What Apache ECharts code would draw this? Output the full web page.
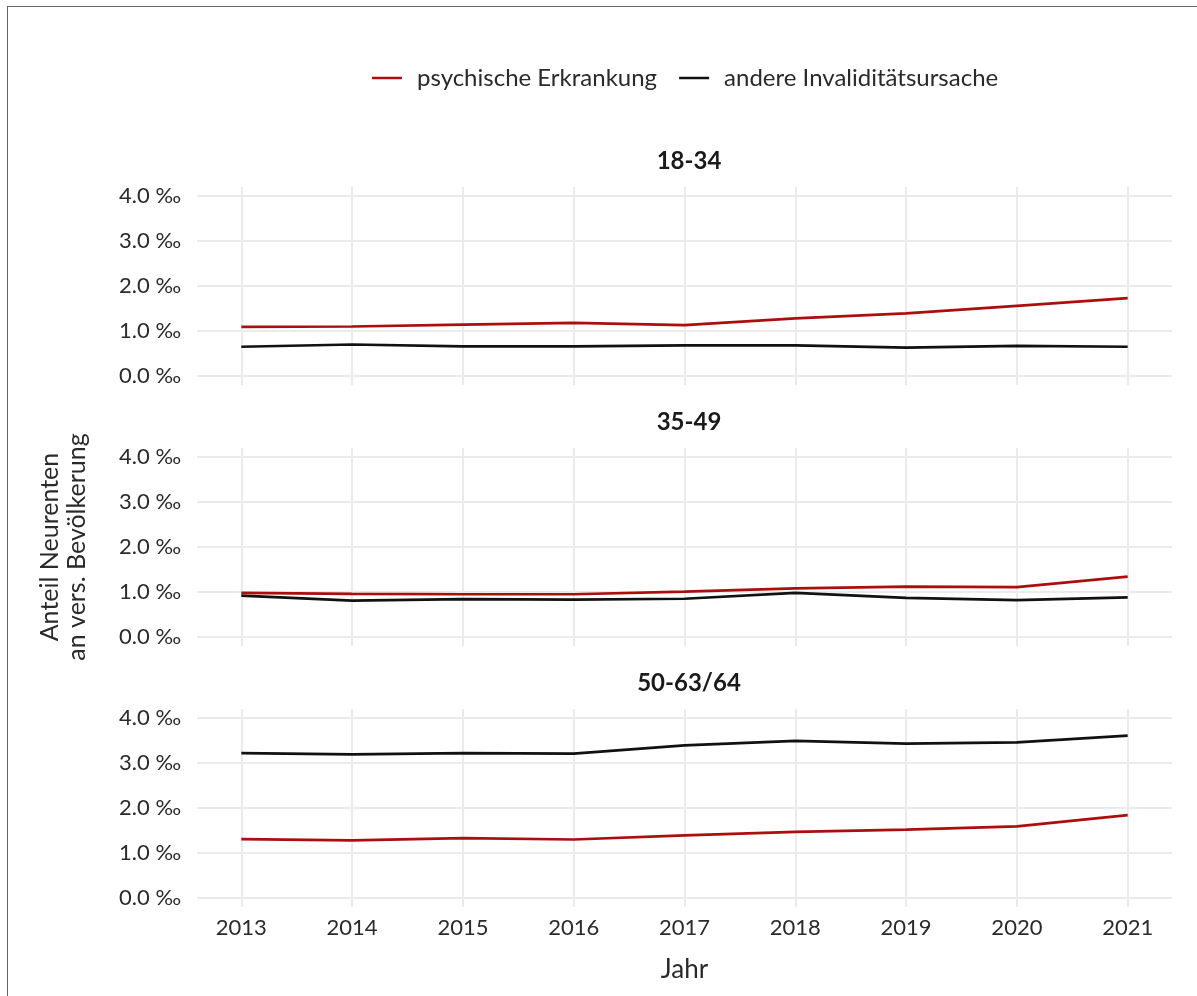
<!DOCTYPE html>
<html>
<head>
<meta charset="utf-8">
<script src="https://cdn.jsdelivr.net/npm/echarts@6/dist/echarts.min.js"></script>
<style>
  html, body { margin: 0; padding: 0; background: #fff; }
  #frame {
    position: absolute; left: 7px; top: 6px; width: 1200px; height: 1000px;
    border-left: 1px solid #666; border-top: 1px solid #666;
  }
  #chart { width: 1197px; height: 996px; }
</style>
</head>
<body>
<div id="chart"></div>
<div id="frame"></div>
<script>
// Jahre und Werte (Promille)
const years = [2013, 2014, 2015, 2016, 2017, 2018, 2019, 2020, 2021];
const yTicks = [0, 1, 2, 3, 4];
const panels = ['18-34', '35-49', '50-63/64'];
const seriesNames = ['psychische Erkrankung', 'andere Invaliditätsursache'];

const psych_18_34 = [1.09, 1.10, 1.14, 1.18, 1.13, 1.28, 1.39, 1.56, 1.73];
const andere_18_34 = [0.65, 0.70, 0.66, 0.66, 0.68, 0.68, 0.63, 0.67, 0.65];
const psych_35_49 = [0.98, 0.96, 0.95, 0.95, 1.01, 1.08, 1.12, 1.11, 1.34];
const andere_35_49 = [0.92, 0.81, 0.84, 0.83, 0.85, 0.98, 0.87, 0.82, 0.88];
const psych_50_64 = [1.31, 1.28, 1.33, 1.30, 1.39, 1.47, 1.52, 1.59, 1.84];
const andere_50_64 = [3.22, 3.19, 3.22, 3.21, 3.39, 3.49, 3.43, 3.46, 3.61];

const panelData = [
  [psych_18_34, andere_18_34],
  [psych_35_49, andere_35_49],
  [psych_50_64, andere_50_64]
];

const colors = ['#ac0e0e', '#111111'];
const font = 'Lato, "Open Sans", sans-serif';
const gridTops = [187, 448, 709];
const gridH = 198;

const chart = echarts.init(document.getElementById('chart'));

const grids = [], xAxes = [], yAxes = [], series = [], titles = [];
panels.forEach((p, i) => {
  grids.push({ left: 197, right: 25, top: gridTops[i], height: gridH });
  xAxes.push({
    type: 'value', gridIndex: i, min: 2012.6, max: 2021.4,
    axisLine: { show: false },
    axisTick: { show: false, customValues: years },
    axisLabel: {
      show: i === 2, customValues: years, color: '#2a2a2a', fontSize: 22,
      fontFamily: font, margin: 10, formatter: v => String(v)
    },
    splitLine: { show: true, lineStyle: { color: '#ebebeb', width: 2 } },
    name: i === 2 ? 'Jahr' : '', nameLocation: 'middle', nameGap: 50,
    nameTextStyle: { color: '#2a2a2a', fontSize: 26, fontFamily: font }
  });
  yAxes.push({
    type: 'value', gridIndex: i, min: -0.2, max: 4.2,
    axisLine: { show: false },
    axisTick: { show: false, customValues: yTicks },
    axisLabel: {
      customValues: yTicks, color: '#2a2a2a', fontSize: 22, fontFamily: font,
      margin: 16, formatter: v => v.toFixed(1) + ' ‰'
    },
    splitLine: { show: true, lineStyle: { color: '#ebebeb', width: 2 } }
  });
  panelData[i].forEach((vals, k) => {
    series.push({
      name: seriesNames[k], type: 'line', xAxisIndex: i, yAxisIndex: i,
      data: years.map((y, j) => [y, vals[j]]),
      showSymbol: false, symbol: 'none',
      lineStyle: { color: colors[k], width: 2.7 },
      itemStyle: { color: colors[k] },
      z: k === 0 ? 3 : 2
    });
  });
  titles.push({
    text: p, left: 684, top: gridTops[i] - 43, textAlign: 'center',
    textStyle: { fontSize: 24, fontWeight: 'bold', color: '#1a1a1a', fontFamily: font }
  });
});

chart.setOption({
  animation: false,
  title: titles,
  legend: {
    data: seriesNames, top: 61, left: 367,
    icon: 'rect', itemWidth: 30, itemHeight: 2.5, itemGap: 22,
    textStyle: { fontSize: 24, color: '#2a2a2a', fontFamily: font, padding: [0, 0, 0, 10] }
  },
  grid: grids,
  xAxis: xAxes,
  yAxis: yAxes,
  series: series,
  graphic: [{
    type: 'text',
    rotation: Math.PI / 2,
    position: [63, 547],
    style: {
      text: 'Anteil Neurenten\nan vers. Bevölkerung',
      fill: '#2a2a2a', fontSize: 25, fontFamily: font, lineHeight: 27,
      align: 'center', verticalAlign: 'middle'
    }
  }]
});
</script>
</body>
</html>
